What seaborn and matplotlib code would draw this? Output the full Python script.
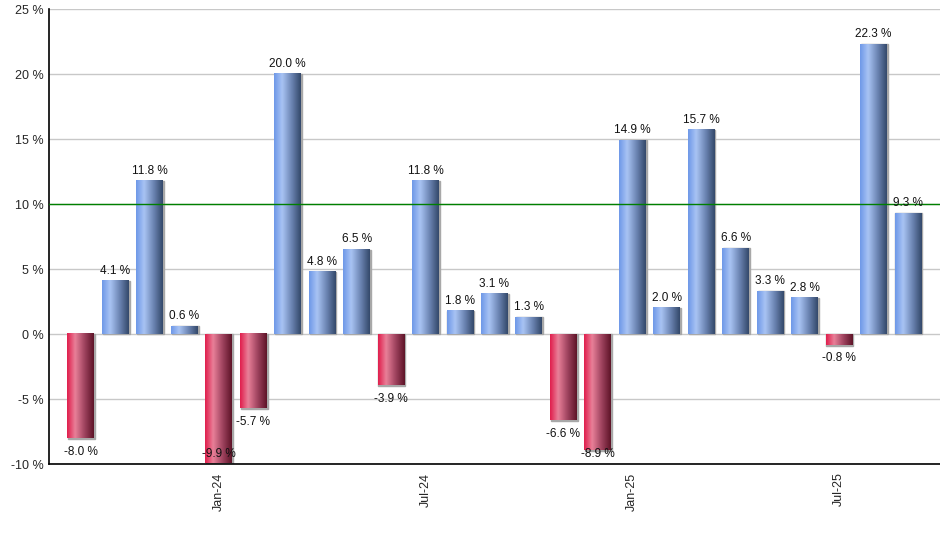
import numpy as np
import pandas as pd
import matplotlib
matplotlib.use('Agg')
import matplotlib.pyplot as plt
from matplotlib.colors import LinearSegmentedColormap
import seaborn as sns

months = ['Sep-23', 'Oct-23', 'Nov-23', 'Dec-23', 'Jan-24', 'Feb-24', 'Mar-24',
          'Apr-24', 'May-24', 'Jun-24', 'Jul-24', 'Aug-24', 'Sep-24', 'Oct-24',
          'Nov-24', 'Dec-24', 'Jan-25', 'Feb-25', 'Mar-25', 'Apr-25', 'May-25',
          'Jun-25', 'Jul-25', 'Aug-25', 'Sep-25']
returns = [-8.0, 4.1, 11.8, 0.6, -9.9, -5.7, 20.0, 4.8, 6.5, -3.9, 11.8, 1.8,
           3.1, 1.3, -6.6, -8.9, 14.9, 2.0, 15.7, 6.6, 3.3, 2.8, -0.8, 22.3, 9.3]
shown_ticks = ['Jan-24', 'Jul-24', 'Jan-25', 'Jul-25']
target = 10

df = pd.DataFrame({'month': months, 'ret': returns})

sns.set_style('white')
plt.rcParams['font.family'] = ['Liberation Sans', 'DejaVu Sans']

fig = plt.figure(figsize=(9.4, 5.5), dpi=100)
ax = fig.add_axes([0.052, 0.156, 0.948, 0.8275])

ax.set_axisbelow(True)
for y in range(-10, 30, 5):
    ax.axhline(y, color='#c8c8c8', lw=1, zorder=0)

sns.barplot(data=df, x='month', y='ret', color='#7fa3e8', width=0.78,
            saturation=1, ax=ax, zorder=2)

blue_cm = LinearSegmentedColormap.from_list(
    'bl', [(0, '#6e98e8'), (0.3, '#a9c4f4'), (0.65, '#6d86b4'), (1, '#34496b')])
red_cm = LinearSegmentedColormap.from_list(
    'rd', [(0, '#e01e4c'), (0.3, '#e98099'), (0.65, '#a04460'), (1, '#5e1428')])
grad = np.linspace(0, 1, 64).reshape(1, -1)

for bar, v in zip(ax.patches, returns):
    x0 = bar.get_x()
    w = bar.get_width()
    bar.set_facecolor('none')
    bar.set_edgecolor('none')
    # thin grey shadow on the right / bottom side
    sh = plt.Rectangle((x0 + 0.025, min(0, v) - (0.08 if v < 0 else 0)), w,
                       abs(v) + 0.08 * (v < 0), color='#a8a8a8', zorder=2)
    ax.add_patch(sh)
    ax.imshow(grad, cmap=blue_cm if v >= 0 else red_cm, aspect='auto',
              extent=[x0, x0 + w, min(0, v), max(0, v)], zorder=3,
              interpolation='bicubic')
    if v >= 0:
        ax.annotate(f'{v:.1f} %', (x0 + w / 2, v), xytext=(0, 3),
                    textcoords='offset points', ha='center', va='bottom',
                    fontsize=8.5, color='#111111', zorder=5)
    else:
        ax.annotate(f'{v:.1f} %', (x0 + w / 2, max(v, -8.15)), xytext=(0, -5.5),
                    textcoords='offset points', ha='center', va='top',
                    fontsize=8.5, color='#111111', zorder=5)

ax.axhline(target, color='#008000', lw=1, zorder=4)

ax.set_xlim(-0.93, len(months) - 1 + 0.93)
ax.set_ylim(-10, 25)
ax.set_yticks(range(-10, 30, 5))
ax.set_yticklabels([f'{t} %' for t in range(-10, 30, 5)], fontsize=9)
ax.tick_params(axis='y', length=0, pad=4)

pos = [months.index(m) for m in shown_ticks]
ax.set_xticks(pos)
ax.set_xticklabels(shown_ticks, rotation=90, fontsize=9)
ax.tick_params(axis='x', length=4, width=1, color='black', pad=2)
ax.set_xlabel('')
ax.set_ylabel('')

for s in ['top', 'right']:
    ax.spines[s].set_visible(False)
for s in ['left', 'bottom']:
    ax.spines[s].set_color('black')
    ax.spines[s].set_linewidth(1.2)

fig.savefig('out.png', dpi=100)
